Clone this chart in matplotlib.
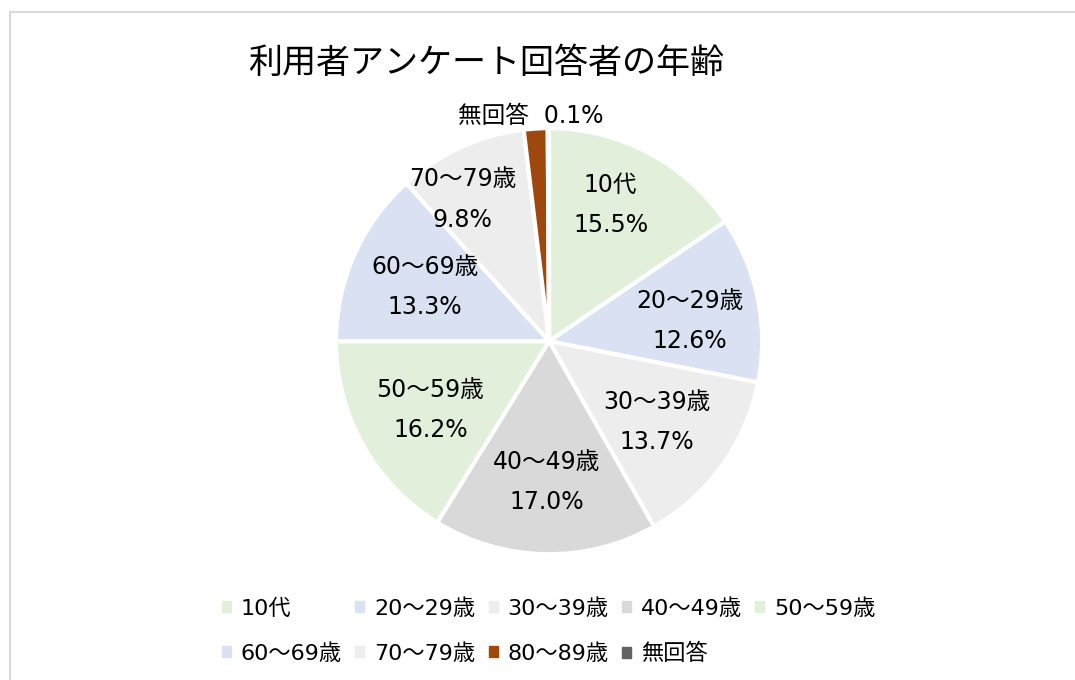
import matplotlib.pyplot as plt
import matplotlib.patches as mpatches
import numpy as np

plt.rcParams['font.family'] = ['DejaVu Sans', 'Noto Sans CJK JP']

# data
names = ['10代', '20～29歳', '30～39歳', '40～49歳', '50～59歳',
         '60～69歳', '70～79歳', '80～89歳', '無回答']
values = [15.5, 12.6, 13.7, 17.0, 16.2, 13.3, 9.8, 1.8, 0.1]
colors = ['#E2EFDA', '#D9E1F2', '#EDEDED', '#D9D9D9', '#E2EFDA',
          '#D9E1F2', '#EDEDED', '#9E480E', '#636363']
title = '利用者アンケート回答者の年齢'

# label distance from centre (fraction of radius), tweaked like the original
label_r = [0.70, 0.667, 0.63, 0.66, 0.645, 0.635, 0.78]
label_shift = [3.5, -3.5, -1, 0, 1, 0.5, 7]

fig = plt.figure(figsize=(10.75, 6.8), dpi=100)

# chart border
fig.patches.append(mpatches.Rectangle((10 / 1075, -0.05), 1.1, (680 - 12) / 680 + 0.05,
                                      transform=fig.transFigure, fill=False,
                                      edgecolor='#D9D9D9', linewidth=1.5))

ax = fig.add_axes([0.3126, 0.185, 0.3963, 0.6265])
wedges, _ = ax.pie(values, colors=colors, startangle=90, counterclock=False,
                   wedgeprops=dict(edgecolor='white', linewidth=3))
ax.set_xlim(-1, 1)
ax.set_ylim(-1, 1)
ax.set_aspect('equal')

# labels inside wedges
for i, w in enumerate(wedges[:7]):
    ang = np.deg2rad((w.theta1 + w.theta2) / 2 + label_shift[i])
    r = label_r[i]
    ax.text(r * np.cos(ang), r * np.sin(ang), f'{names[i]}\n{values[i]:.1f}%',
            ha='center', va='center', fontsize=17, linespacing=1.85)

ax.text(-0.085, 1.056, f'無回答  {values[-1]:.1f}%', ha='center', va='center', fontsize=17)

fig.text(486 / 1075, 1 - 63 / 680, title, ha='center', va='center', fontsize=24.5)

order = [0, 5, 1, 6, 2, 7, 3, 8, 4]
handles = [mpatches.Patch(color=colors[i], label=names[i]) for i in order]
fig.legend(handles=handles, ncol=5, loc='upper left', bbox_to_anchor=(202 / 1075, 1 - 578 / 680),
           frameon=False, fontsize=16, handlelength=0.4, handleheight=0.4,
           handletextpad=0.45, columnspacing=0.6, labelspacing=1.1)

fig.savefig('out.png', dpi=100)
